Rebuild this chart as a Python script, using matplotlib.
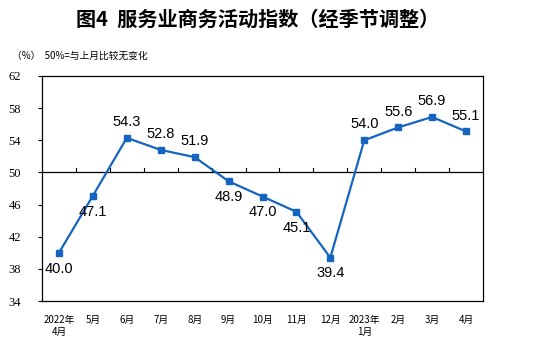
import matplotlib
matplotlib.use("Agg")
import matplotlib.pyplot as plt
import numpy as np

categories = ["2022年\n4月", "5月", "6月", "7月", "8月", "9月", "10月", "11月", "12月", "2023年\n1月", "2月", "3月", "4月"]
values = [40.0, 47.1, 54.3, 52.8, 51.9, 48.9, 47.0, 45.1, 39.4, 54.0, 55.6, 56.9, 55.1]
label_pos = ["below", "below", "above", "above", "above", "below", "below", "below", "below", "above", "above", "above", "above"]
yticks = [34, 38, 42, 46, 50, 54, 58, 62]

cjk = ["Noto Sans CJK SC", "DejaVu Sans"]
fig = plt.figure(figsize=(5.53, 3.43), dpi=100)
ax = fig.add_axes([42/553, 1-301/343, 441/553, 225/343])
x = np.arange(len(values))
color = "#1565C0"
ax.plot(x, values, color=color, lw=1.6, marker="s", ms=4.5, zorder=3)
for xi, v, p in zip(x, values, label_pos):
    if p == "above":
        ax.text(xi, v + 1.1, f"{v:.1f}", ha="center", va="bottom", fontsize=10.5, family="Liberation Sans")
    else:
        ax.text(xi, v - 1.1, f"{v:.1f}", ha="center", va="top", fontsize=10.5, family="Liberation Sans")

ax.set_xlim(-0.5, len(values) - 0.5)
ax.set_ylim(34, 62)
ax.axhline(50, color="black", lw=0.9, zorder=2)
for b in np.arange(0.5, len(values) - 0.5, 1.0):
    ax.plot([b, b], [50, 50.5], color="black", lw=0.8)
ax.set_yticks(yticks)
ax.set_yticklabels([str(t) for t in yticks], family="Liberation Serif", fontsize=9)
ax.tick_params(axis="y", direction="out", length=3, width=0.8, pad=12)
ax.set_xticks(x)
ax.set_xticklabels(categories, family=cjk, fontsize=7, linespacing=1.3)
ax.tick_params(axis="x", length=0, pad=10)
for s in ax.spines.values():
    s.set_linewidth(0.9)

fig.text(258/553, 1 - 19/343, "图4  服务业商务活动指数（经季节调整）", ha="center", va="center",
         fontsize=14.5, fontweight="bold", family=cjk)
fig.text(12/553, 1 - 56/343, "（%）  50%=与上月比较无变化", ha="left", va="center", fontsize=7, family=cjk)
fig.savefig("out.png", dpi=100)
